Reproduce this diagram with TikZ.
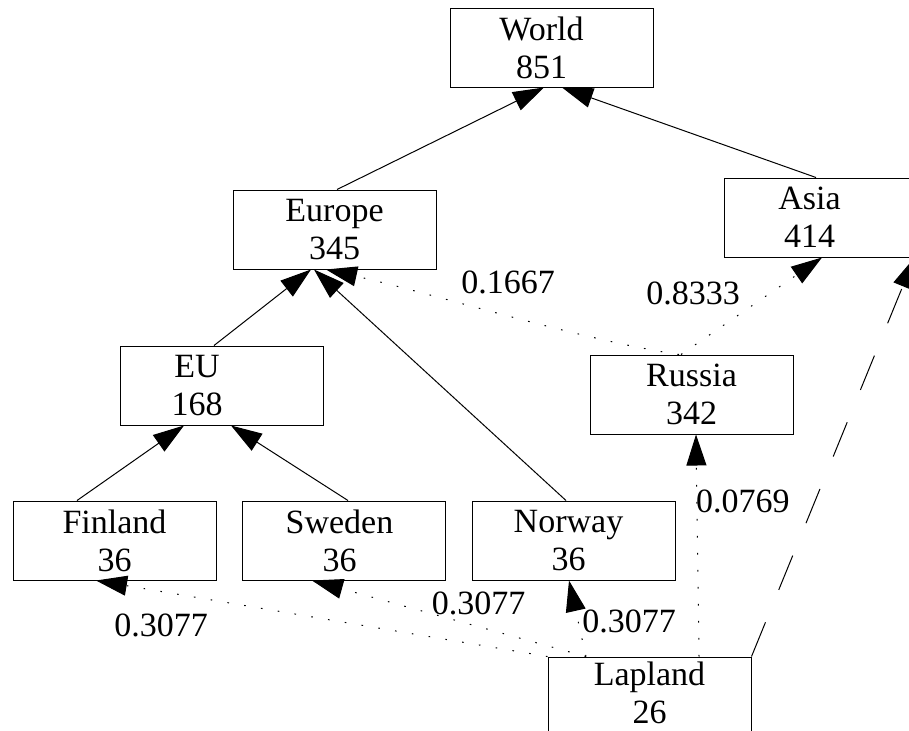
\documentclass[tikz,border=0pt]{standalone}
\usepackage{fontspec}
\setmainfont{Liberation Serif}
\usetikzlibrary{positioning,arrows.meta}
\newcommand{\rgn}[3][0pt]{\kern-#1\relax#2\\\kern-#1\relax#3}

\begin{document}
\begin{tikzpicture}[
    region/.style={draw, line width=0.5pt, minimum width=101.5pt, minimum height=39.5pt,
                   inner sep=0pt, align=center, font=\fontsize{17}{19}\selectfont},
    up/.style={-{Triangle[length=15.5pt, width=10pt]}, line width=0.5pt},
    share/.style={up, dash pattern=on 0.8pt off 7.7pt},
    jump/.style={up, dash pattern=on 18.5pt off 17.5pt},
    wlbl/.style={font=\fontsize{17}{19}\selectfont, inner sep=0pt},
]
\useasboundingbox (0,0) rectangle (454.5pt,-365pt);

% Regions, top to bottom.
\node[region] (world) at (275.75pt,-23.75pt) {\rgn[10pt]{World}{851}};
\node[region, below left=51pt and 6.5pt of world] (europe) {\rgn{Europe}{345}};
\node[region, below right=45pt and 35pt of world] (asia) {\rgn[16pt]{Asia}{414}};
\node[region, below=38pt of europe, xshift=-56.25pt] (eu) {\rgn[25pt]{EU}{168}};
\node[region, below=48.5pt of asia, xshift=-67pt] (russia) {\rgn{Russia}{342}};
\node[region, below=37.5pt of eu, xshift=-53.75pt] (finland) {\rgn{Finland}{36}};
\node[region, right=12.5pt of finland] (sweden) {\rgn[4pt]{Sweden}{36}};
\node[region, right=13pt of sweden] (norway) {\rgn[5pt]{Norway}{36}};
\node[region, below=38pt of norway, xshift=38pt, text depth=4pt] (lapland) {\rgn{Lapland}{26}};

% Full membership (solid).
\draw[up] ([xshift=1.25pt]europe.north) -- ([xshift=-3.75pt]world.south);
\draw[up] ([xshift=-4.75pt]asia.north) -- ([xshift=5.25pt]world.south);
\draw[up] ([xshift=-4pt]eu.north) -- ([xshift=-11.75pt]europe.south);
\draw[up] ([xshift=-3.75pt]norway.north) -- ([xshift=-10.25pt]europe.south);
\draw[up] ([xshift=-18.75pt]finland.north) -- ([xshift=-19pt]eu.south);
\draw[up] ([xshift=2.25pt]sweden.north) -- ([xshift=4.5pt]eu.south);
% Partial membership (dotted, with shares).
\draw[share] ([xshift=-6.25pt]russia.north) .. controls +(-50pt,7.5pt) and +(53.5pt,-12pt) .. node[wlbl, pos=0.5, xshift=1.5pt, yshift=16.25pt] (s_ru_eur) {0.1667} ([xshift=-4.25pt]europe.south);
\draw[share] ([xshift=-5.25pt]russia.north) -- node[wlbl, pos=0.3, xshift=-15.15pt, yshift=15.75pt] (s_ru_as) {0.8333} ([xshift=-1.75pt]asia.south);
\draw[share] ([xshift=24.75pt]lapland.north) -- node[wlbl, pos=0.697, xshift=23pt] (s_la_ru) {0.0769} ([xshift=2.25pt]russia.south);
\draw[share] ([xshift=-31.75pt]lapland.north) -- node[wlbl, pos=0.467, xshift=25.5pt] (s_la_no) {0.3077} ([xshift=-2.25pt]norway.south);
\draw[share] ([xshift=-31.75pt]lapland.north) -- node[wlbl, pos=0.392, yshift=11.5pt] (s_la_sw) {0.3077} ([xshift=-15.75pt]sweden.south);
\draw[share] (lapland.north west) -- node[wlbl, pos=0.856, yshift=-17pt] (s_la_fi) {0.3077} ([xshift=-9.25pt]finland.south);
% Direct link to Asia (dashed).
\draw[jump] (lapland.north east) -- ([xshift=-6.5pt]asia.south east);
\end{tikzpicture}
\end{document}
